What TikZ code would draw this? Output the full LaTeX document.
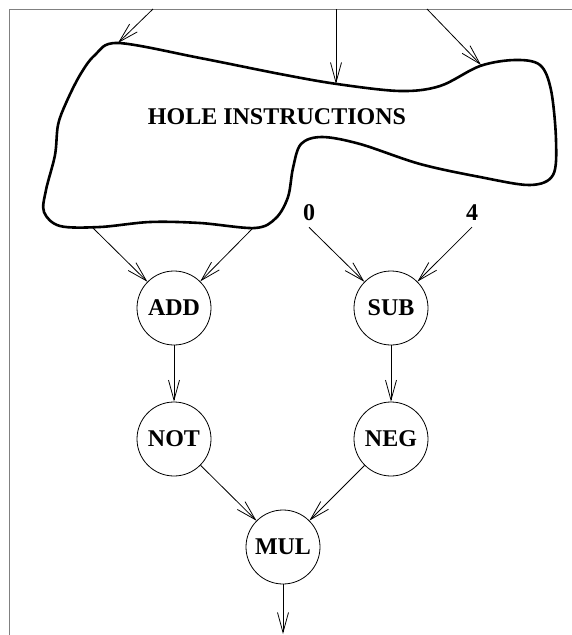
\documentclass[tikz,border=0pt]{standalone}
\usepackage{fontspec}
\setmainfont{Liberation Serif}
\usetikzlibrary{arrows.meta}

\begin{document}
\begin{tikzpicture}[x=1pt,y=-1pt,
  >={Straight Barb[length=20pt,width=11pt]},
  every node/.style={font=\fontsize{24}{28}\selectfont\bfseries},
  op/.style={circle,draw,minimum size=74pt,inner sep=0pt,line width=0.8pt},
  val/.style={inner sep=6pt},
  arc/.style={->,line width=0.8pt},
  hole/.style={line width=2.6pt,line join=round},
  frame/.style={draw=black!50,line width=1pt}]
\useasboundingbox (0,0) rectangle (572,635);
\draw[frame] (572,9) -- (9,9) -- (9,635);
\draw[hole] plot[smooth cycle,tension=0.55] coordinates {
  (118,43) (200,58) (280,74) (337,84) (400,91) (440,86) (480,66)
  (515,60) (540,65) (551,90) (556,140) (553,175) (530,185) (480,177)
  (420,164) (360,144) (322,137) (301,144) (293,168) (288,197) (276,218)
  (255,228) (200,223) (150,222) (100,227) (60,226) (44,212) (46,190)
  (55,155) (58,125) (66,103) (80,75) (95,55)};
\node (hole) at (277,117) {HOLE INSTRUCTIONS};
\coordinate (t1) at (153,9);
\coordinate (t2) at (336,9);
\coordinate (t3) at (427,9);
\coordinate (h1) at (118,43);
\coordinate (h2) at (336,84);
\coordinate (h3) at (481,65);
\coordinate (hb1) at (93,228);
\coordinate (hb2) at (253,228);
\node[val] (zero) at (309,213) {0};
\node[val] (four) at (472,213) {4};
\node[op] (add) at (174,308) {ADD};
\node[op] (sub) at (391,308) {SUB};
\node[op] (not) at (174,439) {NOT};
\node[op] (neg) at (391,439) {NEG};
\node[op] (mul) at (283,547) {MUL};
\coordinate (out) at (283,634);
\draw[arc] (t1) -- (h1);
\draw[arc] (t2) -- (h2);
\draw[arc] (t3) -- (h3);
\draw[arc] (hb1) -- (add);
\draw[arc] (hb2) -- (add);
\draw[arc] (zero.south) -- (sub);
\draw[arc] (four.south) -- (sub);
\draw[arc] (add) -- (not);
\draw[arc] (sub) -- (neg);
\draw[arc] (not) -- (mul);
\draw[arc] (neg) -- (mul);
\draw[arc] (mul) -- (out);
\end{tikzpicture}
\end{document}
